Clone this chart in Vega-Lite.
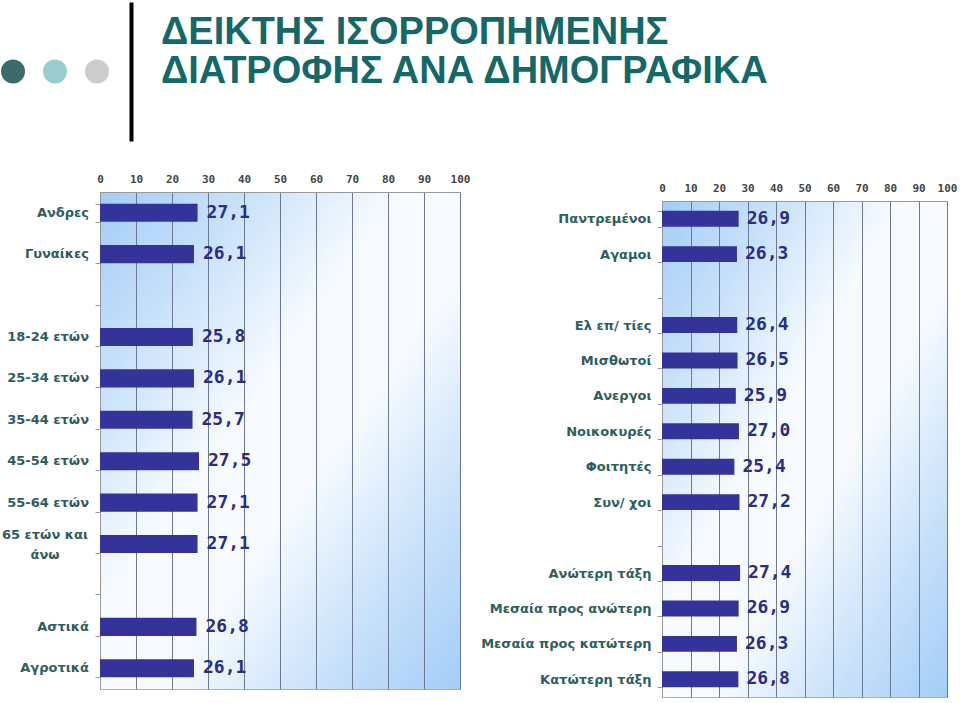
{
  "$schema": "https://vega.github.io/schema/vega-lite/v6.json",
  "background": "white",
  "padding": {"left": 1, "top": 2, "right": 0, "bottom": 5},
  "spacing": 31,
  "config": {
    "locale": {"number": {"decimal": ",", "thousands": ".", "grouping": [3], "currency": ["", " €"]}},
    "font": "Liberation Sans",
    "view": {"stroke": "#b0b0b0"}
  },
  "vconcat": [
    {
      "spacing": 30,
      "hconcat": [
        {
          "width": 130,
          "height": 139,
          "view": {"stroke": null},
          "data": {"values": [{"dot": "1", "i": 1}, {"dot": "2", "i": 2}, {"dot": "3", "i": 3}]},
          "mark": {"type": "point", "filled": true, "size": 576, "opacity": 1},
          "encoding": {
            "x": {"field": "i", "type": "quantitative", "scale": {"domain": [0.714, 3.81], "nice": false, "zero": false}, "axis": null},
            "y": {"datum": 0.5, "type": "quantitative", "scale": {"domain": [0, 1], "nice": false}, "axis": {"orient": "right", "domainColor": "#000000", "domainWidth": 4, "ticks": false, "labels": false, "grid": false, "title": null}},
            "color": {"field": "dot", "type": "nominal", "scale": {"range": ["#3b6b6b", "#99cccc", "#cccccc"]}, "legend": null}
          }
        },
        {
          "width": 600,
          "height": 139,
          "view": {"stroke": null},
          "data": {"values": [{"title": "ΔΕΙΚΤΗΣ ΙΣΟΡΡΟΠΗΜΕΝΗΣ\nΔΙΑΤΡΟΦΗΣ ΑΝΑ ΔΗΜΟΓΡΑΦΙΚΑ"}]},
          "mark": {"type": "text", "align": "left", "baseline": "alphabetic", "lineBreak": "\n", "lineHeight": 39, "dy": 42, "font": "Liberation Sans", "fontWeight": "bold", "fontSize": 38, "color": "#156868"},
          "encoding": {
            "x": {"datum": 0, "type": "quantitative", "scale": {"domain": [0, 1], "nice": false}, "axis": null},
            "y": {"datum": 1, "type": "quantitative", "scale": {"domain": [0, 1], "nice": false}, "axis": null},
            "text": {"field": "title"}
          }
        }
      ]
    },
    {
      "spacing": 5,
      "hconcat": [
        {
          "width": 88,
          "height": 497,
          "view": {"stroke": null},
          "data": {"values": [
            {"group": "Ανδρες", "value": 27.1},
            {"group": "Γυναίκες", "value": 26.1},
            {"group": "18-24 ετών", "value": 25.8},
            {"group": "25-34 ετών", "value": 26.1},
            {"group": "35-44 ετών", "value": 25.7},
            {"group": "45-54 ετών", "value": 27.5},
            {"group": "55-64 ετών", "value": 27.1},
            {"group": "65 ετών και\nάνω", "value": 27.1},
            {"group": "Αστικά", "value": 26.8},
            {"group": "Αγροτικά", "value": 26.1}
          ]},
          "encoding": {
            "y": {"field": "group", "type": "nominal", "sort": null,
              "scale": {"domain": ["Ανδρες", "Γυναίκες", " ", "18-24 ετών", "25-34 ετών", "35-44 ετών", "45-54 ετών", "55-64 ετών", "65 ετών και\nάνω", "  ", "Αστικά", "Αγροτικά"], "paddingInner": 0.565, "paddingOuter": 0.2825},
              "axis": null},
            "x": {"datum": 1, "type": "quantitative", "scale": {"domain": [0, 1], "nice": false}, "axis": null},
            "text": {"field": "group"}
          },
          "layer": [
            {
              "transform": [{"filter": "indexof(datum.group, '\\n') < 0"}],
              "mark": {"type": "text", "align": "right", "baseline": "middle", "font": "DejaVu Sans", "fontWeight": "bold", "fontSize": 13, "color": "#2d5e5e"}
            },
            {
              "transform": [{"filter": "indexof(datum.group, '\\n') >= 0"}],
              "mark": {"type": "text", "align": "center", "baseline": "middle", "lineBreak": "\n", "lineHeight": 20, "dy": -9, "font": "DejaVu Sans", "fontWeight": "bold", "fontSize": 13, "color": "#2d5e5e"},
              "encoding": {"x": {"datum": 0.5, "type": "quantitative"}}
            }
          ]
        },
        {
          "spacing": 9,
          "hconcat": [
            {
              "width": 360,
              "height": 497,
              "view": {"stroke": "#b0b0b0", "fill": {"gradient": "linear", "x1": 0, "y1": 0, "x2": 1, "y2": 1, "stops": [{"offset": 0, "color": "#a3cdf7"}, {"offset": 0.2, "color": "#c8e1fa"}, {"offset": 0.42, "color": "#f7fbff"}, {"offset": 0.58, "color": "#f7fbff"}, {"offset": 0.8, "color": "#c8e1fa"}, {"offset": 1, "color": "#a3cdf7"}]}},
              "data": {"values": [
                {"group": "Ανδρες", "value": 27.1},
                {"group": "Γυναίκες", "value": 26.1},
                {"group": "18-24 ετών", "value": 25.8},
                {"group": "25-34 ετών", "value": 26.1},
                {"group": "35-44 ετών", "value": 25.7},
                {"group": "45-54 ετών", "value": 27.5},
                {"group": "55-64 ετών", "value": 27.1},
                {"group": "65 ετών και\nάνω", "value": 27.1},
                {"group": "Αστικά", "value": 26.8},
                {"group": "Αγροτικά", "value": 26.1}
              ]},
              "encoding": {
                "y": {"field": "group", "type": "nominal", "sort": null,
                  "scale": {"domain": ["Ανδρες", "Γυναίκες", " ", "18-24 ετών", "25-34 ετών", "35-44 ετών", "45-54 ετών", "55-64 ετών", "65 ετών και\nάνω", "  ", "Αστικά", "Αγροτικά"], "paddingInner": 0.565, "paddingOuter": 0.2825},
                  "axis": {"title": null, "labels": false, "tickBand": "extent", "domainColor": "#999999", "tickColor": "#999999", "tickSize": 5, "grid": false}},
                "x": {"field": "value", "type": "quantitative", "scale": {"domain": [0, 100], "nice": false},
                  "axis": {"orient": "top", "title": null, "values": [0, 10, 20, 30, 40, 50, 60, 70, 80, 90, 100], "ticks": false, "tickSize": 0, "domainColor": "#999999", "labelFont": "DejaVu Sans Mono", "labelFontSize": 11, "labelFontWeight": "bold", "labelColor": "#444444", "labelPadding": 8, "labelFlush": false, "grid": true, "gridColor": "#6d7892", "gridWidth": 1}}
              },
              "layer": [
                {"mark": {"type": "bar", "color": "#333399"}},
                {"mark": {"type": "text", "align": "left", "baseline": "middle", "dx": 9, "font": "DejaVu Sans Mono", "fontWeight": "bold", "fontSize": 18, "color": "#2b2b88"},
                  "encoding": {"text": {"field": "value", "type": "quantitative", "format": ".1f"}}}
              ]
            },
            {
              "bounds": "flush",
              "spacing": 8,
              "vconcat": [
                {
                  "width": 1,
                  "height": 1,
                  "view": {"stroke": null},
                  "data": {"values": []},
                  "mark": {"type": "point", "opacity": 0},
                  "encoding": {}
                },
                {
                  "width": 285,
                  "height": 496,
                  "view": {"stroke": "#b0b0b0", "fill": {"gradient": "linear", "x1": 0, "y1": 0, "x2": 1, "y2": 1, "stops": [{"offset": 0, "color": "#a3cdf7"}, {"offset": 0.2, "color": "#c8e1fa"}, {"offset": 0.42, "color": "#f7fbff"}, {"offset": 0.58, "color": "#f7fbff"}, {"offset": 0.8, "color": "#c8e1fa"}, {"offset": 1, "color": "#a3cdf7"}]}},
                  "data": {"values": [
                    {"group": "Παντρεμένοι", "value": 26.9},
                    {"group": "Αγαμοι", "value": 26.3},
                    {"group": "Ελ επ/ τίες", "value": 26.4},
                    {"group": "Μισθωτοί", "value": 26.5},
                    {"group": "Ανεργοι", "value": 25.9},
                    {"group": "Νοικοκυρές", "value": 27.0},
                    {"group": "Φοιτητές", "value": 25.4},
                    {"group": "Συν/ χοι", "value": 27.2},
                    {"group": "Ανώτερη τάξη", "value": 27.4},
                    {"group": "Μεσαία προς ανώτερη", "value": 26.9},
                    {"group": "Μεσαία προς κατώτερη", "value": 26.3},
                    {"group": "Κατώτερη τάξη", "value": 26.8}
                  ]},
                  "encoding": {
                    "y": {"field": "group", "type": "nominal", "sort": null,
                      "scale": {"domain": ["Παντρεμένοι", "Αγαμοι", " ", "Ελ επ/ τίες", "Μισθωτοί", "Ανεργοι", "Νοικοκυρές", "Φοιτητές", "Συν/ χοι", "  ", "Ανώτερη τάξη", "Μεσαία προς ανώτερη", "Μεσαία προς κατώτερη", "Κατώτερη τάξη"], "paddingInner": 0.55, "paddingOuter": 0.275},
                      "axis": {"title": null, "tickBand": "extent", "domainColor": "#999999", "tickColor": "#999999", "tickSize": 5, "labelFont": "DejaVu Sans", "labelFontWeight": "bold", "labelFontSize": 13, "labelColor": "#2d5e5e", "labelPadding": 6, "labelLimit": 300, "grid": false}},
                    "x": {"field": "value", "type": "quantitative", "scale": {"domain": [0, 100], "nice": false},
                      "axis": {"orient": "top", "title": null, "values": [0, 10, 20, 30, 40, 50, 60, 70, 80, 90, 100], "ticks": false, "tickSize": 0, "domainColor": "#999999", "labelFont": "DejaVu Sans Mono", "labelFontSize": 11, "labelFontWeight": "bold", "labelColor": "#444444", "labelPadding": 8, "labelFlush": false, "grid": true, "gridColor": "#6d7892", "gridWidth": 1}}
                  },
                  "layer": [
                    {"mark": {"type": "bar", "color": "#333399"}},
                    {"mark": {"type": "text", "align": "left", "baseline": "middle", "dx": 8, "font": "DejaVu Sans Mono", "fontWeight": "bold", "fontSize": 18, "color": "#2b2b88"},
                      "encoding": {"text": {"field": "value", "type": "quantitative", "format": ".1f"}}}
                  ]
                }
              ]
            }
          ]
        }
      ]
    }
  ]
}
